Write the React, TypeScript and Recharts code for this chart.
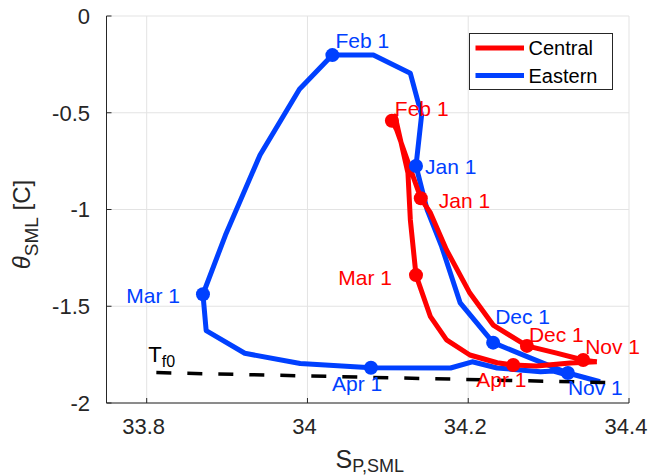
import React from 'react';
import { LineChart, Line, XAxis, YAxis, CartesianGrid, Legend } from 'recharts';

// ---- data ----
const xTicks = [33.8, 34, 34.2, 34.4];
const yTicks = [-2, -1.5, -1, -0.5, 0];
const xDomain = [33.75, 34.4];
const yDomain = [-2, 0];

const easternS = [34.364, 34.324, 34.277, 34.231, 34.19, 34.167, 34.149, 34.135, 34.142, 34.128, 34.082, 34.031, 33.99, 33.941, 33.898, 33.87, 33.874, 33.922, 33.991, 34.079, 34.178, 34.205, 34.236, 34.29, 34.306, 34.318];
const easternT = [-1.89, -1.845, -1.767, -1.688, -1.483, -1.192, -1.003, -0.775, -0.512, -0.296, -0.202, -0.202, -0.379, -0.718, -1.132, -1.438, -1.626, -1.743, -1.796, -1.818, -1.819, -1.787, -1.819, -1.838, -1.835, -1.85];
const easternDates = ['', 'Nov 1', '', 'Dec 1', '', '', '', 'Jan 1', '', '', '', 'Feb 1', '', '', '', 'Mar 1', '', '', '', 'Apr 1', '', '', '', '', '', ''];

const centralS = [34.36, 34.343, 34.31, 34.273, 34.231, 34.202, 34.173, 34.153, 34.141, 34.111, 34.105, 34.109, 34.125, 34.128, 34.135, 34.153, 34.173, 34.202, 34.236, 34.256, 34.285, 34.327, 34.36];
const centralT = [-1.788, -1.778, -1.742, -1.705, -1.597, -1.432, -1.209, -1.018, -0.942, -0.589, -0.541, -0.517, -0.811, -1.054, -1.339, -1.554, -1.674, -1.752, -1.792, -1.804, -1.809, -1.793, -1.787];
const centralDates = ['', 'Nov 1', '', 'Dec 1', '', '', '', '', 'Jan 1', '', 'Feb 1', '', '', '', 'Mar 1', '', '', '', '', 'Apr 1', '', '', ''];

const freezeS = [33.812, 34.379];
const freezeT = [-1.843, -1.895];

const seriesNames = ['Central', 'Eastern'];

// ---- styles ----
const FONT = '"Liberation Sans", Arial, Helvetica, sans-serif';
const AXIS_COLOR = '#262626';
const RED = '#ff0000';
const BLUE = '#0040ff';

const eastOffsets: Record<string, [number, number, string]> = {
  'Nov 1': [0, 22, 'start'],
  'Dec 1': [2, -19, 'start'],
  'Jan 1': [9, 8, 'start'],
  'Feb 1': [3, -7, 'start'],
  'Mar 1': [-23, 9, 'end'],
  'Apr 1': [-39, 23, 'start'],
};
const centOffsets: Record<string, [number, number, string]> = {
  'Nov 1': [2, -6, 'start'],
  'Dec 1': [2, -4, 'start'],
  'Jan 1': [18, 10, 'start'],
  'Feb 1': [3, -5, 'start'],
  'Mar 1': [-24, 10, 'end'],
  'Apr 1': [-37, 22, 'start'],
};

const toRows = (s: number[], t: number[]) => s.map((v, i) => ({ s: v, t: t[i] }));
const easternData = toRows(easternS, easternT);
const centralData = toRows(centralS, centralT);
const freezeData = toRows(freezeS, freezeT);

const makeDot = (color: string, dates: string[], offsets: Record<string, [number, number, string]>) =>
  (props: any) => {
    const { cx, cy, index } = props;
    const d = dates[index];
    if (!d) return <g key={`d${index}`} />;
    const [dx, dy, anchor] = offsets[d];
    return (
      <g key={`d${index}`}>
        <circle cx={cx} cy={cy} r={7} fill={color} stroke="none" />
        <text x={cx + dx} y={cy + dy} textAnchor={anchor as any} fill={color} fontSize={21} fontFamily={FONT}>
          {d}
        </text>
      </g>
    );
  };

const freezeDot = (props: any) => {
  const { cx, cy, index } = props;
  if (index !== 0) return <g key={`f${index}`} />;
  return (
    <g key={`f${index}`}>
      <text x={cx - 8} y={cy - 11} fill="#000" fontSize={22} fontFamily={FONT}>
        T<tspan fontSize={16} dy={5}>f0</tspan>
      </text>
    </g>
  );
};

const XTick = (props: any) => {
  const { x, y, payload } = props;
  return (
    <g>
      <line x1={x} y1={y} x2={x} y2={y - 5} stroke={AXIS_COLOR} strokeWidth={1} />
      <text x={x - 3} y={y + 30.5} textAnchor="middle" fill={AXIS_COLOR} fontSize={22} fontFamily={FONT}>
        {String(payload.value)}
      </text>
    </g>
  );
};

const YTick = (props: any) => {
  const { x, y, payload } = props;
  return (
    <g>
      <line x1={x} y1={y} x2={x + 5} y2={y} stroke={AXIS_COLOR} strokeWidth={1} />
      <text x={x - 16.5} y={y} dy="0.36em" textAnchor="end" fill={AXIS_COLOR} fontSize={22} fontFamily={FONT}>
        {String(payload.value)}
      </text>
    </g>
  );
};

const XLabel = (props: any) => {
  const vb = props.viewBox || {};
  const cx = vb.x + vb.width / 2;
  return (
    <text x={cx + 2} y={vb.y + 65} textAnchor="middle" fill={AXIS_COLOR} fontSize={25} fontFamily={FONT}>
      S<tspan fontSize={18} dy={4}>P,SML</tspan>
    </text>
  );
};

const YLabel = (props: any) => {
  const vb = props.viewBox || {};
  const cy = vb.y + vb.height / 2 + 15;
  const x = 30;
  return (
    <text x={x} y={cy} transform={`rotate(-90 ${x} ${cy})`} textAnchor="middle" fill={AXIS_COLOR} fontSize={24} fontFamily={FONT}>
      <tspan fontStyle="italic">θ</tspan>
      <tspan fontSize={19} dy={8}>SML</tspan>
      <tspan dy={-8}>{'  [C]'}</tspan>
    </text>
  );
};

const LegendBox = () => {
  const colors = [RED, BLUE];
  return (
    <svg width={144} height={57} style={{ display: 'block' }}>
      <rect x={0.5} y={0.5} width={143} height={56} fill="#fff" stroke={AXIS_COLOR} strokeWidth={1} />
      {seriesNames.map((n, i) => (
        <g key={n}>
          <line x1={6.5} x2={55} y1={15 + i * 27.4} y2={15 + i * 27.4} stroke={colors[i]} strokeWidth={5} />
          <text x={59.5} y={15 + i * 27.4} dy="0.36em" fontSize={20} fontFamily={FONT} fill="#000">
            {n}
          </text>
        </g>
      ))}
    </svg>
  );
};

export default function App() {
  return (
    <div style={{ position: 'absolute', left: 0, top: 0, width: 648, height: 476, background: '#fff' }}>
      <LineChart width={648} height={476} margin={{ top: 16, right: 19, bottom: 0, left: 0 }} style={{ overflow: 'visible' }}>
        <CartesianGrid stroke="#e3e3e3" strokeWidth={1} horizontalValues={yTicks} verticalValues={xTicks} />
        <XAxis
          type="number"
          dataKey="s"
          domain={xDomain}
          ticks={xTicks}
          height={73}
          tickSize={0}
          tickMargin={0}
          tickLine={false}
          axisLine={{ stroke: AXIS_COLOR, strokeWidth: 1 }}
          tick={<XTick />}
          interval={0}
          label={{ content: <XLabel /> }}
        />
        <YAxis
          type="number"
          dataKey="t"
          domain={yDomain}
          ticks={yTicks}
          width={106.5}
          tickSize={0}
          tickMargin={0}
          tickLine={false}
          axisLine={{ stroke: AXIS_COLOR, strokeWidth: 1 }}
          tick={<YTick />}
          interval={0}
          label={{ content: <YLabel /> }}
        />
        <Legend
          layout="horizontal"
          verticalAlign="middle"
          align="center"
          content={() => <LegendBox />}
          wrapperStyle={{ position: 'absolute', left: 469, top: 33, width: 144, height: 57 }}
        />
        <Line
          name="Eastern"
          data={easternData}
          dataKey="t"
          stroke={BLUE}
          strokeWidth={5}
          strokeLinejoin="round"
          dot={makeDot(BLUE, easternDates, eastOffsets)}
          activeDot={false}
          isAnimationActive={false}
        />
        <Line
          name="Central"
          data={centralData}
          dataKey="t"
          stroke={RED}
          strokeWidth={5}
          strokeLinejoin="round"
          dot={makeDot(RED, centralDates, centOffsets)}
          activeDot={false}
          isAnimationActive={false}
        />
        <Line
          name="Tf0"
          data={freezeData}
          dataKey="t"
          stroke="#000"
          strokeWidth={3.5}
          strokeDasharray="15 16"
          dot={freezeDot}
          activeDot={false}
          legendType="none"
          isAnimationActive={false}
        />
      </LineChart>
    </div>
  );
}
